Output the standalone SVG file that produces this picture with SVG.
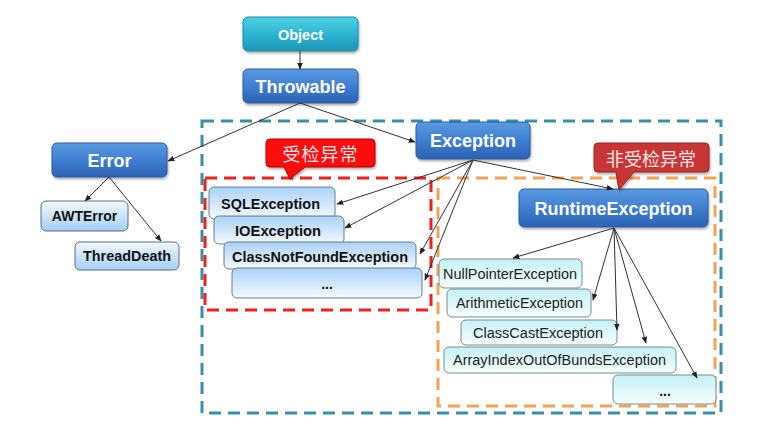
<svg xmlns="http://www.w3.org/2000/svg" width="775" height="430" viewBox="0 0 775 430">
<defs>
<linearGradient id="gBlue" x1="0" y1="0" x2="0" y2="1">
<stop offset="0" stop-color="#5a9ae0"/><stop offset="0.5" stop-color="#3f7fd0"/><stop offset="1" stop-color="#2c62b4"/>
</linearGradient>
<linearGradient id="gTeal" x1="0" y1="0" x2="0" y2="1">
<stop offset="0" stop-color="#4fd0e4"/><stop offset="0.5" stop-color="#2fb6d2"/><stop offset="1" stop-color="#1c96b6"/>
</linearGradient>
<linearGradient id="gLbDown" x1="0" y1="0" x2="0" y2="1">
<stop offset="0" stop-color="#f2f8ff"/><stop offset="1" stop-color="#a4cff6"/>
</linearGradient>
<linearGradient id="gLbUp" x1="0" y1="0" x2="0" y2="1">
<stop offset="0" stop-color="#a9d2f7"/><stop offset="1" stop-color="#f6faff"/>
</linearGradient>
<linearGradient id="gCyan" x1="0" y1="0" x2="0" y2="1">
<stop offset="0" stop-color="#c4f2f7"/><stop offset="1" stop-color="#f6feff"/>
</linearGradient>
<filter id="sh" x="-10%" y="-10%" width="125%" height="140%">
<feDropShadow dx="1" dy="2" stdDeviation="1.2" flood-color="#000" flood-opacity="0.3"/>
</filter>
<marker id="ah" viewBox="0 0 10 10" refX="9" refY="5" markerWidth="7" markerHeight="7" markerUnits="userSpaceOnUse" orient="auto">
<path d="M0,1 L10,5 L0,9 Z" fill="#222"/>
</marker>
</defs>
<style>
.big{fill:url(#gBlue);stroke:#2a5aa0;stroke-width:1;filter:url(#sh)}
.obj{fill:url(#gTeal);stroke:#1a88a8;stroke-width:1;filter:url(#sh)}
.lbd{fill:url(#gLbDown);stroke:#5c6f80;stroke-width:1}
.lbu{fill:url(#gLbUp);stroke:#6a7c8c;stroke-width:1}
.cy{fill:url(#gCyan);stroke:#7c8c90;stroke-width:1}
.tw{font-family:"Liberation Sans",Arial,sans-serif;font-weight:bold;fill:#ffffff;text-anchor:middle}
.tb{font-family:"Liberation Sans",Arial,sans-serif;font-weight:bold;fill:#111;text-anchor:middle;font-size:14px}
.tn{font-family:"Liberation Sans",Arial,sans-serif;fill:#222;text-anchor:middle;font-size:14px}
.cn{font-family:"Noto Sans CJK SC",sans-serif;fill:#ffe6e6;text-anchor:middle;font-size:18px;dominant-baseline:central}
.dash{fill:none;stroke-width:3;stroke-dasharray:12 7}
.ln{stroke:#333;stroke-width:1;fill:none;marker-end:url(#ah)}
</style>
<rect width="775" height="430" fill="#ffffff"/>

<g id="regions">
<rect class="dash" x="202" y="121" width="519" height="292" stroke="#3a8eaa"/>
<rect class="dash" x="205" y="178" width="226" height="132" stroke="#e8221e"/>
<rect class="dash" x="438" y="178" width="277" height="228" stroke="#f2a255"/>
</g>

<g id="node-object"><rect class="obj" x="243" y="17" width="115" height="34" rx="5"/><text class="tw" x="300.5" y="39.5" font-size="14.5">Object</text></g>
<g id="node-throwable"><rect class="big" x="243" y="69" width="115" height="34" rx="5"/><text class="tw" x="300.5" y="92.5" font-size="18">Throwable</text></g>
<g id="node-error"><rect class="big" x="52" y="143" width="115" height="34" rx="5"/><text class="tw" x="109.5" y="166.5" font-size="18">Error</text></g>
<g id="node-exception"><rect class="big" x="416" y="122" width="114" height="37" rx="5"/><text class="tw" x="473" y="147" font-size="18">Exception</text></g>
<g id="node-runtime"><rect class="big" x="519" y="189" width="189" height="38" rx="5"/><text class="tw" x="613.5" y="214.5" font-size="18">RuntimeException</text></g>

<g id="node-awterror"><rect class="lbd" x="41" y="201" width="87" height="30" rx="5"/><text class="tb" x="84.5" y="221">AWTError</text></g>
<g id="node-threaddeath"><rect class="lbd" x="75" y="242" width="104" height="28" rx="5"/><text class="tb" x="127" y="261" textLength="88" lengthAdjust="spacingAndGlyphs">ThreadDeath</text></g>

<g id="node-sql"><rect class="lbu" x="209" y="187" width="126" height="32" rx="5"/><text class="tb" x="270.5" y="209" textLength="99" lengthAdjust="spacingAndGlyphs">SQLException</text></g>
<g id="node-io"><rect class="lbu" x="214" y="216" width="130" height="28" rx="5"/><text class="tb" x="278" y="236" textLength="86" lengthAdjust="spacingAndGlyphs">IOException</text></g>
<g id="node-cnf"><rect class="lbu" x="224" y="242" width="192" height="27" rx="5"/><text class="tb" x="320" y="262" textLength="176" lengthAdjust="spacingAndGlyphs">ClassNotFoundException</text></g>
<g id="node-checked-more"><rect class="lbu" x="232" y="268" width="190" height="30" rx="5"/><text class="tb" x="327" y="289">...</text></g>

<g id="node-npe"><rect class="cy" x="439" y="259" width="143" height="29" rx="5"/><text class="tn" x="510" y="278.5" textLength="134" lengthAdjust="spacingAndGlyphs">NullPointerException</text></g>
<g id="node-arith"><rect class="cy" x="447" y="289" width="144" height="28" rx="5"/><text class="tn" x="519.5" y="308" textLength="127" lengthAdjust="spacingAndGlyphs">ArithmeticException</text></g>
<g id="node-classcast"><rect class="cy" x="461" y="320" width="156" height="25" rx="5"/><text class="tn" x="538" y="337.5" textLength="130" lengthAdjust="spacingAndGlyphs">ClassCastException</text></g>
<g id="node-arrayidx"><rect class="cy" x="444" y="347" width="232" height="26" rx="5"/><text class="tn" x="559.5" y="364.5" textLength="213" lengthAdjust="spacingAndGlyphs">ArrayIndexOutOfBundsException</text></g>
<g id="node-unchecked-more"><rect class="cy" x="613" y="375" width="103" height="29" rx="5"/><text class="tb" x="665" y="396" font-weight="normal">...</text></g>

<g id="callout-checked">
<path d="M270,139 H371 Q375,139 375,143 V163 Q375,167 371,167 H305 L290,179 L284,167 H270 Q266,167 266,163 V143 Q266,139 270,139 Z" fill="#ff0a0a" stroke="#b80000" stroke-width="1" filter="url(#sh)"/>
<text class="cn" x="320.5" y="153" letter-spacing="1">受检异常</text>
</g>
<g id="callout-unchecked">
<path d="M598,143 H705 Q709,143 709,147 V168 Q709,172 705,172 H634 L619,190 L616,172 H598 Q594,172 594,168 V147 Q594,143 598,143 Z" fill="#c83434" stroke="#9a2020" stroke-width="1" filter="url(#sh)"/>
<text class="cn" x="651" y="158">非受检异常</text>
</g>

<g id="connectors">
<line class="ln" x1="300" y1="51" x2="300" y2="69"/>
<line class="ln" x1="300" y1="103" x2="168" y2="161"/>
<line class="ln" x1="300" y1="103" x2="415" y2="142"/>
<line class="ln" x1="473" y1="160" x2="337" y2="204"/>
<line class="ln" x1="473" y1="160" x2="345" y2="228"/>
<line class="ln" x1="473" y1="160" x2="420" y2="254"/>
<line class="ln" x1="473" y1="160" x2="425" y2="280"/>
<line class="ln" x1="473" y1="160" x2="613" y2="189"/>
<line class="ln" x1="614" y1="228" x2="513" y2="258"/>
<line class="ln" x1="614" y1="228" x2="593" y2="300"/>
<line class="ln" x1="614" y1="228" x2="617" y2="330"/>
<line class="ln" x1="614" y1="228" x2="646" y2="343"/>
<line class="ln" x1="614" y1="228" x2="697" y2="378"/>
<line class="ln" x1="109" y1="177" x2="85" y2="201"/>
<line class="ln" x1="109" y1="177" x2="161" y2="241"/>
</g>
</svg>
